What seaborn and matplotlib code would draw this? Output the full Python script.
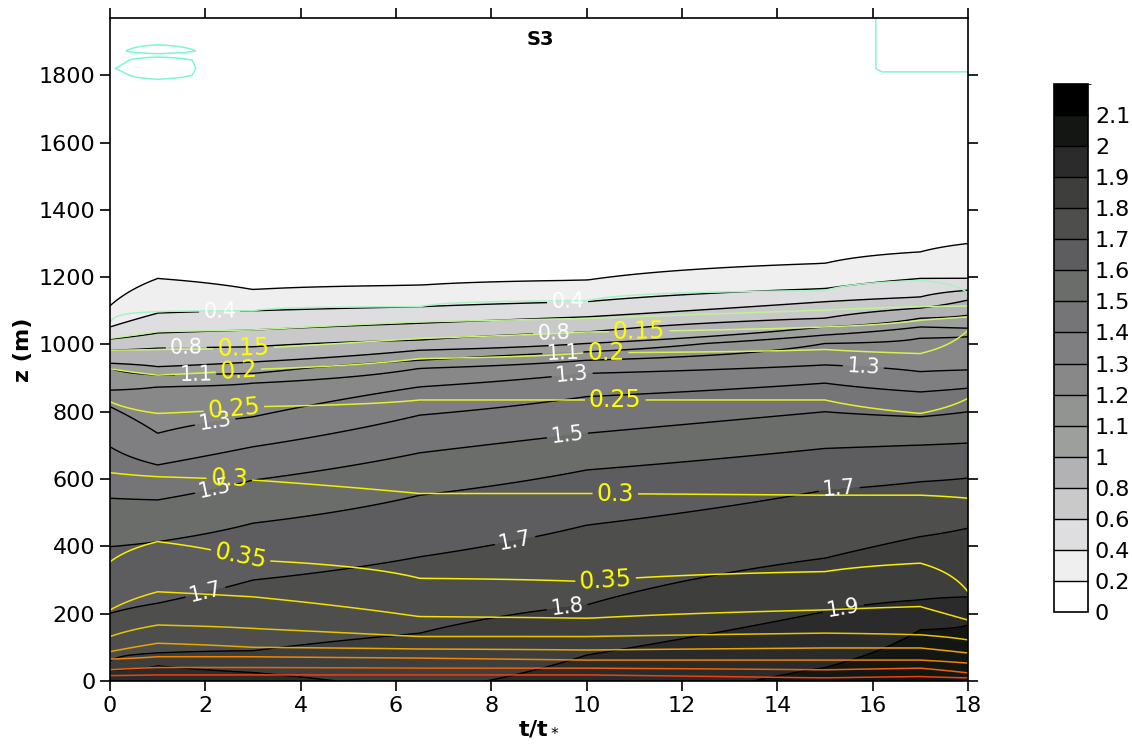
import numpy as np
import matplotlib
matplotlib.use("Agg")
import matplotlib.pyplot as plt
from matplotlib.colors import ListedColormap, BoundaryNorm
import seaborn as sns

sns.set_style("ticks")
plt.rcParams["font.family"] = ["DejaVu Sans"]
plt.rcParams["text.color"] = "black"
plt.rcParams["axes.labelcolor"] = "black"
plt.rcParams["xtick.color"] = "black"
plt.rcParams["ytick.color"] = "black"

nan = np.nan
# time nodes (t/t*) at which contour heights were read
t_nodes = [0, 1, 3, 6.5, 10, 15, 17, 18]

# ---- grey-shaded field: heights (m) of each contour level ----
s_020 = [1115, 1196, 1163, 1176, 1191, 1241, 1275, 1300]
s_040 = [1052, 1093, 1100, 1112, 1127, 1166, 1196, 1196]
s_060 = [1016, 1034, 1043, 1063, 1082, 1127, 1141, 1161]
s_080 = [983, 989, 993, 1013, 1037, 1078, 1108, 1132]
s_100 = [944, 934, 948, 983, 1003, 1052, 1078, 1087]
s_110 = [929, 909, 914, 953, 978, 1028, 1052, 1048]
s_120 = [864, 874, 885, 929, 953, 1003, 1019, 1023]
s_130 = [815, 736, 785, 874, 914, 939, 919, 924]
s_140 = [696, 642, 696, 790, 845, 885, 859, 870]
s_150 = [543, 538, 597, 678, 736, 800, 785, 800]
s_160 = [399, 414, 469, 552, 627, 691, 701, 707]
s_170 = [201, 231, 300, 369, 463, 567, 592, 603]
s_180 = [60, 83, 90, 142, 226, 365, 429, 454]
s_190 = [33, 45, 25, nan, 77, 206, 241, 250]
s_200 = [nan, nan, nan, nan, nan, 40, 152, 166]
s_bottom = [1.95, 1.95, 1.92, 1.88, 1.93, 2.03, 2.06, 2.06]
s_rows = [s_200, s_190, s_180, s_170, s_160, s_150, s_140, s_130, s_120,
          s_110, s_100, s_080, s_060, s_040, s_020]
s_vals = [2.0, 1.9, 1.8, 1.7, 1.6, 1.5, 1.4, 1.3, 1.2, 1.1, 1.0, 0.8, 0.6, 0.4, 0.2]

# colourbar / shading levels
shade_levels = [0, 0.2, 0.4, 0.6, 0.8, 1, 1.1, 1.2, 1.3, 1.4, 1.5, 1.6, 1.7, 1.8,
                1.9, 2.0, 2.1, 2.2]
shade_labels = ["0", "0.2", "0.4", "0.6", "0.8", "1", "1.1", "1.2", "1.3", "1.4",
                "1.5", "1.6", "1.7", "1.8", "1.9", "2", "2.1"]
shade_colors = ["#ffffff", "#efefef", "#dedde0", "#c9c9c9", "#b2b1b3", "#9d9f9c",
                "#929491", "#878887", "#7f7e80", "#757476", "#6b6d6a", "#5d5c5e",
                "#4e4f4d", "#3e3f3d", "#2b2b2b", "#131613", "#000000"]
s_labelled = [0.4, 0.8, 1.1, 1.3, 1.5, 1.7, 1.8, 1.9]

# ---- line field: heights (m) of each contour level ----
w_005 = [1067, 1097, 1100, 1112, 1130, 1160, 1190, 1152]
w_010 = [1018, 1038, 1043, 1067, 1077, 1102, 1112, 1114]
w_015 = [983, 985, 988, 1018, 1037, 1052, 1072, 1082]
w_020 = [928, 909, 926, 958, 975, 985, 973, 1043]
w_025 = [830, 795, 815, 835, 835, 835, 795, 840]
w_030 = [619, 607, 597, 557, 557, 552, 552, 543]
w_035 = [354, 414, 359, 305, 295, 325, 350, 265]
w_040 = [211, 265, 250, 191, 186, 211, 221, 181]
w_045 = [132, 166, 156, 132, 132, 142, 137, 122]
w_050 = [87, 112, 100, 95, 92, 98, 98, 83]
w_055 = [65, 72, 72, 68, 62, 62, 62, 53]
w_060 = [33, 40, 40, 38, 38, 33, 38, 24]
w_065 = [16, 18, 18, 18, 18, 9, 13, 9]
w_bottom = [0.69, 0.69, 0.69, 0.69, 0.69, 0.69, 0.69, 0.69]
w_rows = [w_065, w_060, w_055, w_050, w_045, w_040, w_035, w_030, w_025,
          w_020, w_015, w_010, w_005]
w_vals = [0.65, 0.6, 0.55, 0.5, 0.45, 0.4, 0.35, 0.3, 0.25, 0.2, 0.15, 0.1, 0.05]
w_free = 0.02

# upper-air values of the line field (small pockets near the top)
u_t = [0, 1, 2.2, 15.8, 16.2, 18]
u_z = [1300, 1780, 1800, 1820, 1845, 1860, 1872, 1895, 1970]
u_col0 = [0.02, 0.02, 0.02, 0.005, 0.02, 0.02, 0.02, 0.02, 0.02]
u_col1 = [0.02, 0.02, -0.03, -0.04, -0.03, 0.02, -0.04, 0.01, 0.02]
u_col2 = [0.02, 0.02, 0.02, 0.02, 0.02, 0.02, 0.02, 0.02, 0.02]
u_col3 = [0.02, 0.02, 0.02, 0.02, 0.02, 0.02, 0.02, 0.02, 0.02]
u_col4 = [0.02, 0.02, 0.01, -0.01, -0.01, -0.01, -0.01, -0.01, -0.01]
u_col5 = [0.02, 0.02, 0.01, -0.01, -0.01, -0.01, -0.01, -0.01, -0.01]
u_cols = [u_col0, u_col1, u_col2, u_col3, u_col4, u_col5]

line_levels = [0.0, 0.05, 0.1, 0.15, 0.2, 0.25, 0.3, 0.35, 0.4, 0.45, 0.5, 0.55,
               0.6, 0.65]
line_colors = ["#7ff5d6", "#a8f2c4", "#bdf29a", "#cdf27a", "#d8f050", "#e2f22a",
               "#f0f000", "#f8f000", "#f2e000", "#e8c400", "#e8a400", "#f08400",
               "#f06200", "#f04010"]
w_labelled = [0.15, 0.2, 0.25, 0.3, 0.35]

# ---------------- grid construction ----------------
tg = np.linspace(0, 18, 361)
zg = np.linspace(0, 1970, 789)


def to_grid(node_t, columns):
    cols = np.array(columns)
    out = np.empty((len(zg), len(tg)))
    for i in range(len(zg)):
        out[i] = np.interp(tg, node_t, cols[:, i])
    return out


s_columns = []
for j in range(len(t_nodes)):
    zs, vs = [0.0], [s_bottom[j]]
    for row, val in zip(s_rows, s_vals):
        if not np.isnan(row[j]):
            zs.append(row[j]); vs.append(val)
    zs += [s_020[j] + 80, 2000]; vs += [0.1, 0.05]
    s_columns.append(np.interp(zg, zs, vs))
S = to_grid(t_nodes, s_columns)

w_columns = []
for j in range(len(t_nodes)):
    zs, vs = [0.0], [w_bottom[j]]
    for row, val in zip(w_rows, w_vals):
        zs.append(row[j]); vs.append(val)
    zs += [1300, 2000]; vs += [w_free, w_free]
    w_columns.append(np.interp(zg, zs, vs))
W_low = to_grid(t_nodes, w_columns)
W_up = to_grid(u_t, [np.interp(zg, u_z, c) for c in u_cols])
Tg, Zg = np.meshgrid(tg, zg)
W = np.where(Zg >= 1300, W_up, W_low)

# ---------------- plotting ----------------
fig = plt.figure(figsize=(11.32, 7.47), dpi=100)
ax = fig.add_axes([0.0972, 0.0884, 0.7579, 0.8875])

cmap = ListedColormap(shade_colors)
norm = BoundaryNorm(shade_levels, cmap.N)
cf = ax.contourf(Tg, Zg, S, levels=shade_levels, cmap=cmap, norm=norm)

s_plain = [v for v in shade_levels[1:-1] if not any(abs(v - l) < 1e-9 for l in s_labelled)]
ax.contour(Tg, Zg, S, levels=s_plain, colors="black", linewidths=1.0)
cs1 = ax.contour(Tg, Zg, S, levels=s_labelled, colors="black", linewidths=1.0)

w_plain = [v for v in line_levels if not any(abs(v - l) < 1e-9 for l in w_labelled)]
w_plain_col = [c for v, c in zip(line_levels, line_colors) if v in w_plain]
w_lab_col = [c for v, c in zip(line_levels, line_colors) if v not in w_plain]
ax.contour(Tg, Zg, W, levels=w_plain, colors=w_plain_col, linewidths=1.1)
cs2 = ax.contour(Tg, Zg, W, levels=w_labelled, colors=w_lab_col, linewidths=1.1)

s_lab_t = [2.3, 9.6, 1.6, 9.3, 1.8, 9.5, 2.2, 9.7, 15.8, 2.2, 9.6, 2.0, 8.5,
           15.3, 9.6, 15.4]
s_lab_z = [1093, 1126, 989, 1043, 891, 977, 775, 903, 924, 573, 725, 264, 416,
           567, 208, 205]
ax.clabel(cs1, manual=list(zip(s_lab_t, s_lab_z)), colors="white", fontsize=15,
          fmt="%g", inline=True, inline_spacing=4)

w_lab_t = [2.8, 11.1, 2.7, 10.4, 2.6, 10.6, 2.5, 10.6, 2.7, 10.4]
w_lab_z = [989, 1037, 906, 977, 808, 840, 594, 555, 350, 294]
ax.clabel(cs2, manual=list(zip(w_lab_t, w_lab_z)), colors="#ffff00", fontsize=17,
          fmt="%g", inline=True, inline_spacing=4)

ax.set_xlim(0, 18)
ax.set_ylim(0, 1970)
ax.set_xticks(np.arange(0, 19, 2))
ax.set_yticks(np.arange(0, 1801, 200))
ax.tick_params(axis="both", direction="out", length=7, width=1.2,
               labelsize=16, top=True, right=True, labeltop=False,
               labelright=False, color="black", labelcolor="black")
for sp in ax.spines.values():
    sp.set_visible(True)
    sp.set_linewidth(1.2)
    sp.set_color("black")
ax.set_xlabel("t/t$_*$", fontsize=16, fontweight="bold", labelpad=2)
ax.set_ylabel("z (m)", fontsize=16, fontweight="bold", labelpad=4)
ax.text(0.502, 0.967, "S3", transform=ax.transAxes, ha="center", va="center",
        fontsize=14, fontweight="bold")

cax = fig.add_axes([0.9311, 0.1807, 0.0300, 0.7068])
cb = fig.colorbar(cf, cax=cax, ticks=shade_levels[:-1], drawedges=True,
                  spacing="uniform")
cb.ax.set_yticklabels(shade_labels)
cb.ax.tick_params(length=0, labelsize=16, pad=5, labelcolor="black")
cb.outline.set_linewidth(1.2)
cb.outline.set_edgecolor("black")
cb.dividers.set_color("black")
cb.dividers.set_linewidth(1.0)

fig.savefig("out.png", dpi=100)
